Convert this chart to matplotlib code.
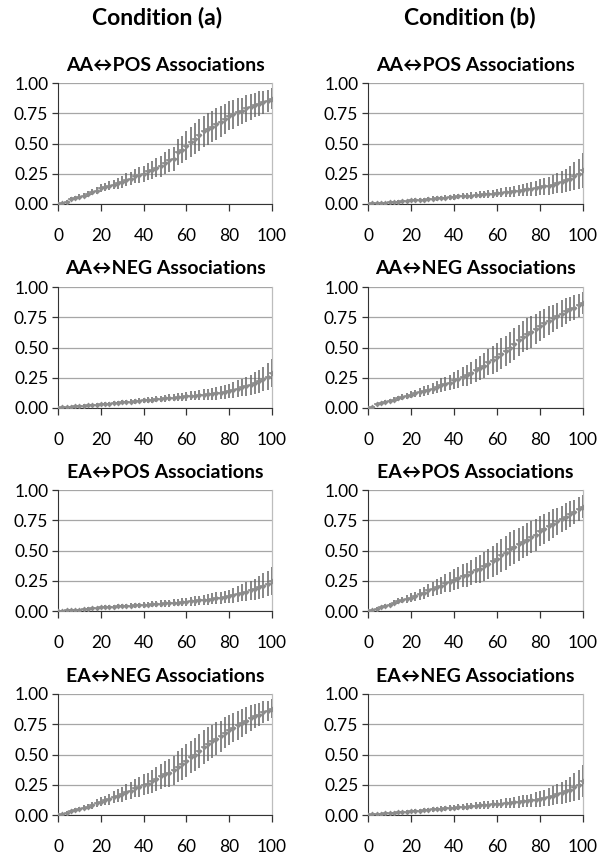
import matplotlib
matplotlib.use("Agg")
import matplotlib.pyplot as plt

# ---------------- data ----------------
x_values = list(range(0, 101, 2))
x_ticks = [0, 20, 40, 60, 80, 100]
y_ticks = [0.00, 0.25, 0.50, 0.75, 1.00]
col_titles = ["Condition (a)", "Condition (b)"]
row_titles = ["AA\u2194POS Associations", "AA\u2194NEG Associations",
              "EA\u2194POS Associations", "EA\u2194NEG Associations"]

a1_mean = [0.00,0.01,0.02,0.04,0.05,0.06,0.07,0.08,0.10,0.11,
           0.13,0.14,0.15,0.16,0.17,0.18,0.20,0.21,0.23,0.24,
           0.25,0.27,0.28,0.30,0.31,0.34,0.36,0.37,0.43,0.45,
           0.48,0.51,0.54,0.57,0.60,0.62,0.64,0.66,0.68,0.70,
           0.73,0.74,0.76,0.77,0.79,0.80,0.82,0.83,0.84,0.85,
           0.87]
a1_err = [0.005,0.010,0.012,0.015,0.018,0.020,0.022,0.025,0.027,0.030,
          0.032,0.035,0.038,0.040,0.045,0.050,0.053,0.056,0.060,0.063,
          0.067,0.070,0.075,0.080,0.085,0.090,0.095,0.100,0.110,0.115,
          0.120,0.125,0.130,0.130,0.130,0.130,0.130,0.130,0.130,0.125,
          0.120,0.120,0.115,0.110,0.110,0.105,0.100,0.100,0.095,0.090,
          0.085]

b1_mean = [0.000,0.005,0.008,0.010,0.012,0.015,0.017,0.020,0.022,0.025,
           0.030,0.032,0.035,0.037,0.040,0.045,0.047,0.050,0.052,0.055,
           0.060,0.062,0.065,0.067,0.070,0.075,0.078,0.080,0.082,0.085,
           0.090,0.093,0.097,0.100,0.105,0.110,0.115,0.120,0.125,0.130,
           0.140,0.145,0.150,0.160,0.170,0.180,0.195,0.210,0.230,0.250,
           0.280]
b1_err = [0.003,0.004,0.005,0.006,0.007,0.008,0.009,0.010,0.011,0.012,
          0.013,0.014,0.015,0.016,0.017,0.018,0.019,0.020,0.021,0.022,
          0.023,0.024,0.025,0.026,0.027,0.028,0.029,0.030,0.032,0.034,
          0.036,0.038,0.040,0.042,0.045,0.048,0.050,0.053,0.056,0.060,
          0.064,0.068,0.072,0.077,0.083,0.090,0.098,0.106,0.115,0.125,
          0.145]

a2_mean = [0.000,0.005,0.010,0.012,0.015,0.018,0.020,0.022,0.025,0.028,
           0.030,0.033,0.036,0.040,0.043,0.047,0.050,0.053,0.056,0.060,
           0.063,0.066,0.070,0.073,0.076,0.080,0.083,0.086,0.090,0.093,
           0.097,0.100,0.103,0.106,0.110,0.113,0.117,0.120,0.125,0.130,
           0.140,0.150,0.160,0.170,0.180,0.190,0.205,0.220,0.240,0.260,
           0.290]
a2_err = [0.003,0.004,0.005,0.006,0.007,0.008,0.009,0.010,0.011,0.012,
          0.013,0.014,0.015,0.016,0.017,0.018,0.019,0.020,0.021,0.022,
          0.023,0.024,0.025,0.026,0.027,0.028,0.029,0.030,0.032,0.034,
          0.036,0.038,0.040,0.042,0.044,0.046,0.048,0.050,0.053,0.056,
          0.060,0.064,0.068,0.073,0.078,0.084,0.090,0.096,0.102,0.108,
          0.115]

b2_mean = [0.00,0.01,0.03,0.04,0.05,0.06,0.07,0.08,0.09,0.10,
           0.11,0.12,0.13,0.14,0.15,0.16,0.17,0.19,0.20,0.21,
           0.23,0.24,0.26,0.27,0.29,0.31,0.33,0.35,0.38,0.40,
           0.42,0.45,0.47,0.50,0.53,0.56,0.59,0.61,0.63,0.65,
           0.68,0.70,0.72,0.74,0.76,0.78,0.80,0.82,0.83,0.85,
           0.87]
b2_err = [0.005,0.008,0.010,0.012,0.015,0.018,0.020,0.022,0.025,0.028,
          0.030,0.032,0.035,0.038,0.040,0.045,0.050,0.055,0.060,0.065,
          0.070,0.075,0.080,0.085,0.090,0.095,0.100,0.105,0.110,0.115,
          0.120,0.125,0.125,0.130,0.130,0.130,0.130,0.130,0.130,0.125,
          0.125,0.120,0.120,0.115,0.110,0.110,0.105,0.100,0.100,0.095,
          0.090]

a3_mean = [0.000,0.003,0.005,0.007,0.008,0.010,0.015,0.020,0.022,0.025,
           0.030,0.032,0.034,0.036,0.038,0.040,0.042,0.044,0.046,0.048,
           0.050,0.053,0.056,0.058,0.060,0.063,0.066,0.068,0.070,0.073,
           0.077,0.080,0.083,0.087,0.090,0.095,0.100,0.105,0.110,0.115,
           0.120,0.130,0.140,0.150,0.160,0.170,0.180,0.195,0.210,0.225,
           0.250]
a3_err = [0.003,0.004,0.005,0.006,0.007,0.008,0.009,0.010,0.011,0.012,
          0.013,0.014,0.015,0.016,0.017,0.018,0.019,0.020,0.021,0.022,
          0.023,0.024,0.025,0.026,0.027,0.028,0.029,0.030,0.031,0.032,
          0.034,0.036,0.038,0.040,0.042,0.044,0.046,0.048,0.050,0.053,
          0.056,0.060,0.065,0.070,0.076,0.082,0.088,0.095,0.100,0.105,
          0.115]

b3_mean = [0.00,0.01,0.02,0.03,0.04,0.05,0.07,0.08,0.09,0.10,
           0.11,0.12,0.14,0.15,0.17,0.18,0.20,0.21,0.23,0.24,
           0.26,0.27,0.29,0.30,0.32,0.34,0.35,0.37,0.39,0.41,
           0.43,0.46,0.48,0.51,0.53,0.55,0.57,0.59,0.61,0.63,
           0.66,0.68,0.70,0.72,0.74,0.76,0.78,0.80,0.82,0.84,
           0.86]
b3_err = [0.005,0.008,0.010,0.012,0.015,0.018,0.020,0.024,0.028,0.032,
          0.036,0.040,0.045,0.050,0.055,0.060,0.065,0.070,0.075,0.080,
          0.085,0.090,0.095,0.100,0.105,0.110,0.115,0.120,0.125,0.130,
          0.135,0.135,0.140,0.140,0.140,0.140,0.135,0.135,0.130,0.130,
          0.125,0.125,0.120,0.120,0.115,0.110,0.110,0.105,0.100,0.100,
          0.095]

a4_mean = [0.00,0.01,0.02,0.03,0.04,0.05,0.06,0.07,0.08,0.10,
           0.11,0.12,0.13,0.15,0.16,0.17,0.19,0.20,0.22,0.23,
           0.25,0.26,0.28,0.30,0.32,0.34,0.35,0.37,0.40,0.42,
           0.45,0.48,0.50,0.53,0.56,0.59,0.61,0.63,0.65,0.68,
           0.70,0.72,0.74,0.76,0.78,0.80,0.82,0.83,0.85,0.86,
           0.88]
a4_err = [0.005,0.008,0.010,0.012,0.015,0.018,0.020,0.024,0.028,0.032,
          0.036,0.040,0.045,0.050,0.055,0.060,0.065,0.070,0.075,0.080,
          0.085,0.090,0.095,0.100,0.105,0.110,0.115,0.120,0.125,0.130,
          0.135,0.135,0.140,0.140,0.140,0.140,0.135,0.135,0.130,0.130,
          0.125,0.120,0.120,0.115,0.110,0.105,0.100,0.095,0.090,0.085,
          0.080]

b4_mean = [0.000,0.005,0.008,0.010,0.013,0.016,0.019,0.022,0.025,0.028,
           0.031,0.034,0.037,0.040,0.043,0.046,0.049,0.052,0.055,0.058,
           0.061,0.064,0.067,0.070,0.073,0.076,0.079,0.082,0.085,0.088,
           0.091,0.094,0.097,0.100,0.104,0.108,0.112,0.116,0.121,0.127,
           0.134,0.142,0.150,0.160,0.170,0.180,0.195,0.210,0.230,0.250,
           0.280]
b4_err = [0.003,0.004,0.005,0.006,0.007,0.008,0.009,0.010,0.011,0.012,
          0.013,0.014,0.015,0.016,0.017,0.018,0.019,0.020,0.021,0.022,
          0.023,0.024,0.025,0.026,0.027,0.028,0.029,0.030,0.032,0.034,
          0.036,0.038,0.040,0.042,0.045,0.048,0.050,0.053,0.056,0.060,
          0.064,0.068,0.072,0.077,0.083,0.090,0.098,0.106,0.115,0.125,
          0.135]

panels = [
    [(a1_mean, a1_err), (b1_mean, b1_err)],
    [(a2_mean, a2_err), (b2_mean, b2_err)],
    [(a3_mean, a3_err), (b3_mean, b3_err)],
    [(a4_mean, a4_err), (b4_mean, b4_err)],
]

# ---------------- layout ----------------
W, H = 599, 857
fig = plt.figure(figsize=(W / 100, H / 100), dpi=100)
FONT = ["Lato", "DejaVu Sans"]

col_left = [58, 368]
col_width = [214, 215]
row_top = [83, 287, 490, 694]
row_h = 121

for r in range(4):
    for c in range(2):
        left = col_left[c] / W
        bottom = 1 - (row_top[r] + row_h) / H
        ax = fig.add_axes([left, bottom, col_width[c] / W, row_h / H])
        mean, err = panels[r][c]
        ax.errorbar(x_values, mean, yerr=err, fmt="none", ecolor="#666666",
                    elinewidth=1.1, capsize=0, zorder=3)
        ax.plot(x_values, mean, linestyle="none", marker="D", markersize=3.0,
                color="#8c8c8c", markeredgewidth=0, zorder=4)
        ax.plot(x_values, mean, linestyle="none", marker="_", markersize=5.0,
                color="#8c8c8c", markeredgewidth=1.1, zorder=4)
        ax.set_xlim(0, 100)
        ax.set_ylim(0, 1.0)
        ax.set_xticks(x_ticks)
        ax.set_yticks(y_ticks)
        ax.set_yticklabels([f"{v:.2f}" for v in y_ticks])
        ax.grid(axis="y", color="#a6a6a6", linewidth=0.9)
        ax.set_axisbelow(True)
        ax.spines["right"].set_color("#bdbdbd")
        ax.spines["right"].set_linewidth(0.9)
        ax.spines["top"].set_visible(False)
        ax.spines["left"].set_color("#333333")
        ax.spines["bottom"].set_color("#333333")
        ax.tick_params(axis="x", direction="out", length=5, width=0.9,
                       color="#333333", pad=12, labelsize=12.5)
        ax.tick_params(axis="y", direction="out", length=4, width=0.9,
                       color="#333333", pad=3, labelsize=12.5)
        for lab in ax.get_xticklabels() + ax.get_yticklabels():
            lab.set_family(FONT)
        ax.set_title(row_titles[r], fontsize=14, fontweight="bold",
                     family=FONT, pad=9)

fig.text(157 / W, 1 - 18 / H, col_titles[0], ha="center", va="center",
         fontsize=16.5, fontweight="bold", family=FONT)
fig.text(470 / W, 1 - 18 / H, col_titles[1], ha="center", va="center",
         fontsize=16.5, fontweight="bold", family=FONT)

fig.savefig("out.png", dpi=100, facecolor="white")
